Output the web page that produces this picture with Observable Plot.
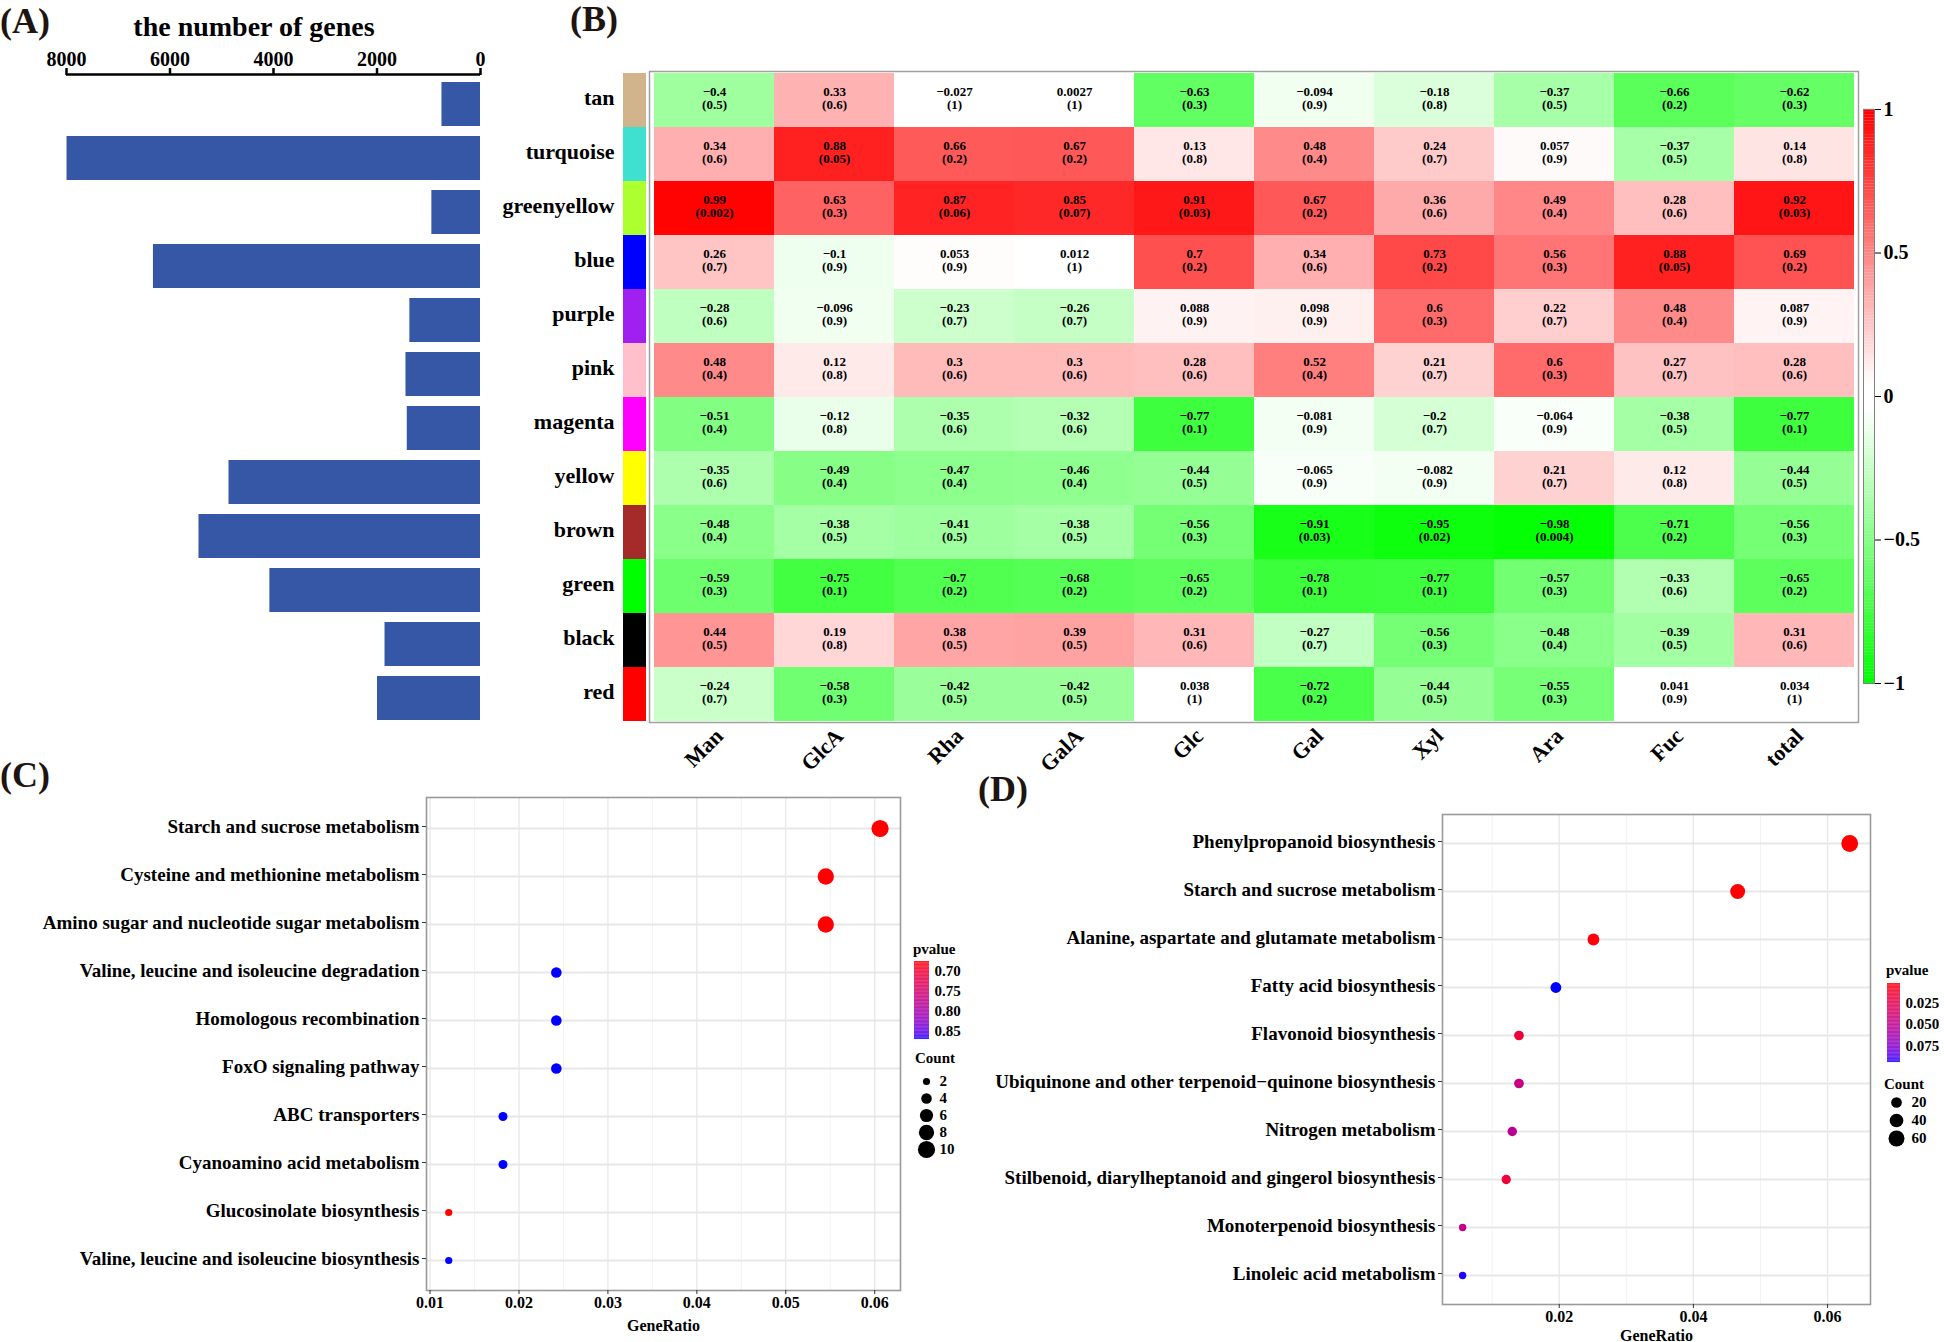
<!DOCTYPE html>
<html>
<head>
<meta charset="utf-8">
<script src="https://cdn.jsdelivr.net/npm/d3@7"></script>
<script src="https://cdn.jsdelivr.net/npm/@observablehq/plot@0.6"></script>
<style>
  body { margin: 0; background: #fff; }
  #fig { position: relative; width: 1944px; height: 1342px; background: #fff; overflow: hidden;
         font-family: "Liberation Serif", "Times New Roman", serif; font-weight: bold; color: #000; }
  .txt { position: absolute; white-space: nowrap; line-height: 1; }
  .panel { font-size: 36px; color: #1e1410; }
</style>
</head>
<body>
<div id="fig"></div>
<script>
// ---------------- DATA ----------------
// Panel A / B : modules
const modules = ["tan","turquoise","greenyellow","blue","purple","pink","magenta","yellow","brown","green","black","red"];
const moduleColors = ["#D2B48C","#40E0D0","#ADFF2F","#0000FF","#A020F0","#FFC0CB","#FF00FF","#FFFF00","#A52A2A","#00FF00","#000000","#FF0000"];
const geneCounts = [745, 7990, 940, 6320, 1365, 1440, 1415, 4860, 5440, 4070, 1845, 1990];
const geneTicks = [0, 2000, 4000, 6000, 8000];

// Panel B : module–trait correlations (rows = modules, columns = traits)
const traits = ["Man","GlcA","Rha","GalA","Glc","Gal","Xyl","Ara","Fuc","total"];
const corValues = [
  [-0.4, 0.33, -0.027, 0.0027, -0.63, -0.094, -0.18, -0.37, -0.66, -0.62],
  [0.34, 0.88, 0.66, 0.67, 0.13, 0.48, 0.24, 0.057, -0.37, 0.14],
  [0.99, 0.63, 0.87, 0.85, 0.91, 0.67, 0.36, 0.49, 0.28, 0.92],
  [0.26, -0.1, 0.053, 0.012, 0.7, 0.34, 0.73, 0.56, 0.88, 0.69],
  [-0.28, -0.096, -0.23, -0.26, 0.088, 0.098, 0.6, 0.22, 0.48, 0.087],
  [0.48, 0.12, 0.3, 0.3, 0.28, 0.52, 0.21, 0.6, 0.27, 0.28],
  [-0.51, -0.12, -0.35, -0.32, -0.77, -0.081, -0.2, -0.064, -0.38, -0.77],
  [-0.35, -0.49, -0.47, -0.46, -0.44, -0.065, -0.082, 0.21, 0.12, -0.44],
  [-0.48, -0.38, -0.41, -0.38, -0.56, -0.91, -0.95, -0.98, -0.71, -0.56],
  [-0.59, -0.75, -0.7, -0.68, -0.65, -0.78, -0.77, -0.57, -0.33, -0.65],
  [0.44, 0.19, 0.38, 0.39, 0.31, -0.27, -0.56, -0.48, -0.39, 0.31],
  [-0.24, -0.58, -0.42, -0.42, 0.038, -0.72, -0.44, -0.55, 0.041, 0.034]
];
const pValues = [
  [0.5, 0.6, 1, 1, 0.3, 0.9, 0.8, 0.5, 0.2, 0.3],
  [0.6, 0.05, 0.2, 0.2, 0.8, 0.4, 0.7, 0.9, 0.5, 0.8],
  [0.002, 0.3, 0.06, 0.07, 0.03, 0.2, 0.6, 0.4, 0.6, 0.03],
  [0.7, 0.9, 0.9, 1, 0.2, 0.6, 0.2, 0.3, 0.05, 0.2],
  [0.6, 0.9, 0.7, 0.7, 0.9, 0.9, 0.3, 0.7, 0.4, 0.9],
  [0.4, 0.8, 0.6, 0.6, 0.6, 0.4, 0.7, 0.3, 0.7, 0.6],
  [0.4, 0.8, 0.6, 0.6, 0.1, 0.9, 0.7, 0.9, 0.5, 0.1],
  [0.6, 0.4, 0.4, 0.4, 0.5, 0.9, 0.9, 0.7, 0.8, 0.5],
  [0.4, 0.5, 0.5, 0.5, 0.3, 0.03, 0.02, 0.004, 0.2, 0.3],
  [0.3, 0.1, 0.2, 0.2, 0.2, 0.1, 0.1, 0.3, 0.6, 0.2],
  [0.5, 0.8, 0.5, 0.5, 0.6, 0.7, 0.3, 0.4, 0.5, 0.6],
  [0.7, 0.3, 0.5, 0.5, 1, 0.2, 0.5, 0.3, 0.9, 1]
];
const corTicks = [-1, -0.5, 0, 0.5, 1];

// Panel C : KEGG enrichment
const termsC = ["Starch and sucrose metabolism","Cysteine and methionine metabolism","Amino sugar and nucleotide sugar metabolism",
  "Valine, leucine and isoleucine degradation","Homologous recombination","FoxO signaling pathway","ABC transporters",
  "Cyanoamino acid metabolism","Glucosinolate biosynthesis","Valine, leucine and isoleucine biosynthesis"];
const ratioC = [0.0606, 0.0545, 0.0545, 0.0242, 0.0242, 0.0242, 0.0182, 0.0182, 0.0121, 0.0121];
const countC = [10, 9, 9, 4, 4, 4, 3, 3, 2, 2];
const pvalC = [0.675, 0.675, 0.675, 0.87, 0.87, 0.87, 0.87, 0.87, 0.675, 0.87];
const ticksC = [0.01, 0.02, 0.03, 0.04, 0.05, 0.06];
const minorC = [0.015, 0.025, 0.035, 0.045, 0.055];
const pTicksC = [0.70, 0.75, 0.80, 0.85];
const countBreaksC = [2, 4, 6, 8, 10];

// Panel D : KEGG enrichment
const termsD = ["Phenylpropanoid biosynthesis","Starch and sucrose metabolism","Alanine, aspartate and glutamate metabolism",
  "Fatty acid biosynthesis","Flavonoid biosynthesis","Ubiquinone and other terpenoid\u2212quinone biosynthesis",
  "Nitrogen metabolism","Stilbenoid, diarylheptanoid and gingerol biosynthesis","Monoterpenoid biosynthesis","Linoleic acid metabolism"];
const ratioD = [0.0633, 0.0466, 0.0251, 0.0195, 0.0140, 0.0140, 0.0130, 0.0121, 0.0056, 0.0056];
const countD = [68, 50, 27, 21, 15, 15, 14, 13, 6, 6];
const pvalD = [0.0026, 0.003, 0.004, 0.094, 0.016, 0.045, 0.053, 0.017, 0.047, 0.093];
const ticksD = [0.02, 0.04, 0.06];
const minorD = [0.01, 0.03, 0.05];
const pTicksD = [0.025, 0.050, 0.075];
const countBreaksD = [20, 40, 60];

// ---------------- helpers ----------------
const fig = document.getElementById("fig");
const FONT = '"Liberation Serif", "Times New Roman", serif';
const baseStyle = {fontFamily: FONT, fontWeight: "bold", background: "transparent", color: "#000", overflow: "visible", fontSize: "16px"};
function place(node, left, top, w) {
  const d = document.createElement("div");
  d.style.cssText = `position:absolute;left:${left}px;top:${top}px;width:${w}px;`;
  node.style.maxWidth = "none";
  d.appendChild(node);
  fig.appendChild(d);
}
function addText(text, left, top, size, cls = "") {
  const d = document.createElement("div");
  d.className = "txt " + cls;
  d.style.left = left + "px"; d.style.top = top + "px"; d.style.fontSize = size + "px";
  d.textContent = text;
  fig.appendChild(d);
  return d;
}
const minus = v => String(v).replace("-", "\u2212");

// ---------------- Panel A ----------------
const geneRows = modules.map((m, i) => ({module: m, genes: geneCounts[i]}));
const plotA = Plot.plot({
  width: 500, height: 740,
  marginLeft: 66, marginRight: 20, marginTop: 74, marginBottom: 15,
  style: baseStyle,
  x: {domain: [0, 8000], reverse: true, axis: null},
  y: {domain: modules, paddingInner: 0.18, paddingOuter: 0.09, insetTop: 3, axis: null},
  marks: [
    Plot.barX(geneRows, {x: "genes", y: "module", fill: "#3656A6"})
  ]
});
place(plotA, 0, 0, 500);
// top axis of panel A (same x scale)
const plotAaxis = Plot.plot({
  width: 500, height: 80,
  marginLeft: 66, marginRight: 20, marginTop: 74, marginBottom: 2,
  style: baseStyle,
  x: {domain: [0, 8000], reverse: true},
  y: {domain: [0, 1], axis: null},
  marks: [
    Plot.ruleY([1], {x1: 0, x2: 8000, stroke: "#000", strokeWidth: 2.5}),
    Plot.axisX({anchor: "top", ticks: geneTicks, tickFormat: "d", tickSize: 7, tickPadding: 2,
                fontSize: 20, strokeWidth: 2.5, label: null})
  ]
});
place(plotAaxis, 0, 0, 500);
addText("(A)", 0, 3, 36, "panel");
const titleA = addText("the number of genes", 254, 13, 28);
titleA.style.transform = "translateX(-50%)";

// ---------------- Panel B ----------------
const stripRows = modules.map((m, i) => ({module: m, color: moduleColors[i]}));
const plotStrip = Plot.plot({
  width: 250, height: 730,
  marginLeft: 223, marginRight: 4, marginTop: 71, marginBottom: 8,
  style: baseStyle,
  x: {domain: ["m"], padding: 0, axis: null},
  y: {domain: modules, padding: 0},
  marks: [
    Plot.cell(stripRows, {x: () => "m", y: "module", fill: d => d.color}),
    Plot.axisY({anchor: "left", tickSize: 0, tickPadding: 9, fontSize: 22, dy: -3, label: null})
  ]
});
place(plotStrip, 400, 0, 250);

const heat = modules.flatMap((m, i) => traits.map((t, j) => ({module: m, trait: t, cor: corValues[i][j], p: pValues[i][j]})));
// green–white–red palette with a narrow white band around zero
const gwr = t => {
  const v = 2 * t - 1, w = 0.04;
  if (Math.abs(v) <= w) return "#ffffff";
  return v < 0 ? d3.interpolateRgb("#ffffff", "#00FF00")((-v - w) / (1 - w))
               : d3.interpolateRgb("#ffffff", "#FF0000")((v - w) / (1 - w));
};
const corColor = {type: "linear", domain: [-1, 1], interpolate: gwr};
const plotHeat = Plot.plot({
  width: 1230, height: 800,
  marginLeft: 9, marginRight: 12, marginTop: 71, marginBottom: 78,
  style: baseStyle,
  x: {domain: traits, padding: 0, axis: null},
  y: {domain: modules, padding: 0, axis: null},
  color: corColor,
  marks: [
    Plot.cell(heat, {x: "trait", y: "module", fill: "cor"}),
    Plot.text(heat, {x: "trait", y: "module", text: d => minus(d.cor) + "\n(" + d.p + ")",
                     fontSize: 13, lineHeight: 0.95, dy: -2, fill: "#000"}),
    Plot.frame({stroke: "#a0a0a0", strokeWidth: 1.5}),
    Plot.text(traits, {x: d => d, frameAnchor: "bottom", rotate: -45, textAnchor: "end",
                       dx: 10, dy: 15, fontSize: 22, fill: "#000"})
  ]
});
place(plotHeat, 640, 0, 1230);

const barSteps = d3.range(-1, 1, 0.01);
const plotCbar = Plot.plot({
  width: 94, height: 740,
  marginLeft: 13, marginRight: 70, marginTop: 109, marginBottom: 57,
  style: baseStyle,
  y: {domain: [-1, 1]},
  color: corColor,
  marks: [
    Plot.rect(barSteps, {y1: d => d, y2: d => d + 0.0105, fill: d => d + 0.005}),
    Plot.frame({stroke: "#808080", strokeWidth: 1}),
    Plot.axisY({anchor: "right", ticks: corTicks, tickFormat: d => minus(d), tickSize: 6, tickPadding: 3,
                fontSize: 20, label: null})
  ]
});
place(plotCbar, 1850, 0, 94);
addText("(B)", 570, 1, 36, "panel");

// ---------------- Panel C ----------------
const goC = termsC.map((t, i) => ({term: t, ratio: ratioC[i], count: countC[i], p: pvalC[i]}));
const colorC = {type: "linear", domain: [0.675, 0.87], range: ["red", "blue"], interpolate: "lab"};
const rC = {type: "sqrt", domain: [2, 10], range: [3.6, 8.6]};
const plotC = Plot.plot({
  width: 902, height: 582,
  marginLeft: 426, marginRight: 2, marginTop: 37, marginBottom: 52,
  style: baseStyle,
  x: {domain: [0.0096, 0.0629]},
  y: {type: "point", domain: termsC, padding: 0.6},
  color: colorC, r: rC,
  marks: [
    Plot.ruleX(minorC, {stroke: "#f2f2f2", strokeWidth: 1}),
    Plot.ruleX(ticksC, {stroke: "#e8e8e8", strokeWidth: 1.3}),
    Plot.ruleY(termsC, {stroke: "#e8e8e8", strokeWidth: 2}),
    Plot.frame({stroke: "#9a9a9a", strokeWidth: 1.6}),
    Plot.dot(goC, {x: "ratio", y: "term", r: "count", fill: "p"}),
    Plot.axisX({anchor: "bottom", ticks: ticksC, tickFormat: ".2f", tickSize: 4, tickPadding: 2, fontSize: 16,
                stroke: "#333", label: "GeneRatio", labelAnchor: "center", labelOffset: 40, labelArrow: "none"}),
    Plot.axisY({anchor: "left", tickSize: 4, tickPadding: 3, fontSize: 19, stroke: "#333", dy: -2, label: null})
  ]
});
place(plotC, 0, 760, 902);
addText("(C)", 0, 757, 36, "panel");

// Legend C
const pStepsC = d3.range(0, 1, 0.01).map(t => 0.675 + t * (0.87 - 0.675));
const legCbar = Plot.plot({
  width: 80, height: 100, marginLeft: 14, marginRight: 51, marginTop: 11, marginBottom: 11,
  style: baseStyle,
  y: {domain: [0.675, 0.87], reverse: true},
  color: colorC,
  marks: [
    Plot.rect(pStepsC, {y1: d => d, y2: d => d + 0.00205, fill: d => d + 0.001}),
    Plot.axisY({anchor: "right", ticks: pTicksC, tickFormat: ".2f", tickSize: 0, tickPadding: 5, fontSize: 15, label: null})
  ]
});
place(legCbar, 900, 950, 80);
addText("pvalue", 913, 942, 15);
addText("Count", 915, 1051, 15);
const legCcount = Plot.plot({
  width: 80, height: 95, marginLeft: 16, marginRight: 44, marginTop: 12, marginBottom: 13,
  style: baseStyle,
  y: {type: "point", domain: countBreaksC, padding: 0, axis: null},
  r: rC,
  marks: [
    Plot.dot(countBreaksC, {y: d => d, r: d => d, fill: "#000"}),
    Plot.text(countBreaksC, {y: d => d, text: d => String(d), dx: 13, textAnchor: "start", fontSize: 15})
  ]
});
place(legCcount, 900, 1068, 80);

// ---------------- Panel D ----------------
const goD = termsD.map((t, i) => ({term: t, ratio: ratioD[i], count: countD[i], p: pvalD[i]}));
const colorD = {type: "linear", domain: [0.0026, 0.094], range: ["red", "blue"], interpolate: "lab"};
const rD = {type: "sqrt", domain: [6, 68], range: [3.7, 8.4]};
const plotD = Plot.plot({
  width: 980, height: 582,
  marginLeft: 542, marginRight: 10, marginTop: 54, marginBottom: 38,
  style: baseStyle,
  x: {domain: [0.0026, 0.0664]},
  y: {type: "point", domain: termsD, padding: 0.6},
  color: colorD, r: rD,
  marks: [
    Plot.ruleX(minorD, {stroke: "#f2f2f2", strokeWidth: 1}),
    Plot.ruleX(ticksD, {stroke: "#e8e8e8", strokeWidth: 1.3}),
    Plot.ruleY(termsD, {stroke: "#e8e8e8", strokeWidth: 2}),
    Plot.frame({stroke: "#9a9a9a", strokeWidth: 1.6}),
    Plot.dot(goD, {x: "ratio", y: "term", r: "count", fill: "p"}),
    Plot.axisX({anchor: "bottom", ticks: ticksD, tickFormat: ".2f", tickSize: 4, tickPadding: 2, fontSize: 16,
                stroke: "#333", label: "GeneRatio", labelAnchor: "center", labelOffset: 36, labelArrow: "none"}),
    Plot.axisY({anchor: "left", tickSize: 4, tickPadding: 3, fontSize: 19, stroke: "#333", dy: -2, label: null})
  ]
});
place(plotD, 900, 760, 980);
addText("(D)", 978, 771, 36, "panel");

// Legend D
const pStepsD = d3.range(0, 1, 0.01).map(t => 0.0026 + t * (0.094 - 0.0026));
const legDbar = Plot.plot({
  width: 74, height: 100, marginLeft: 17, marginRight: 44, marginTop: 13, marginBottom: 8,
  style: baseStyle,
  y: {domain: [0.0026, 0.094], reverse: true},
  color: colorD,
  marks: [
    Plot.rect(pStepsD, {y1: d => d, y2: d => d + 0.00096, fill: d => d + 0.00046}),
    Plot.axisY({anchor: "right", ticks: pTicksD, tickFormat: ".3f", tickSize: 0, tickPadding: 5, fontSize: 15, label: null})
  ]
});
place(legDbar, 1870, 970, 74);
addText("pvalue", 1886, 963, 15);
addText("Count", 1884, 1077, 15);
const legDcount = Plot.plot({
  width: 74, height: 60, marginLeft: 16, marginRight: 38, marginTop: 12, marginBottom: 12,
  style: baseStyle,
  y: {type: "point", domain: countBreaksD, padding: 0, axis: null},
  r: rD,
  marks: [
    Plot.dot(countBreaksD, {y: d => d, r: d => d, fill: "#000"}),
    Plot.text(countBreaksD, {y: d => d, text: d => String(d), dx: 15, textAnchor: "start", fontSize: 15})
  ]
});
place(legDcount, 1870, 1090, 74);
</script>
</body>
</html>
